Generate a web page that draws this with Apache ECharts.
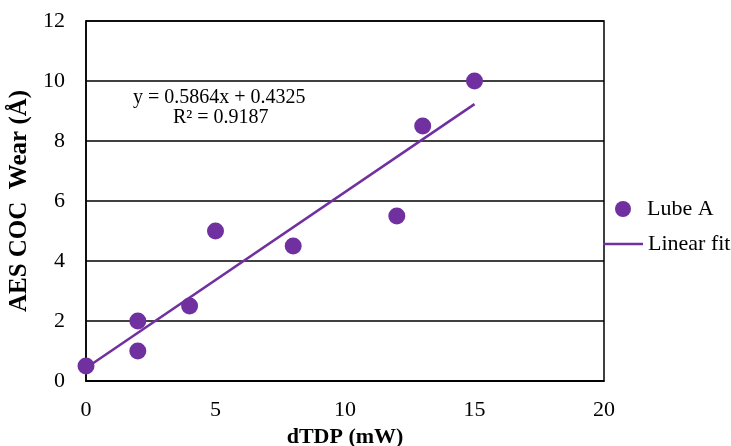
<!DOCTYPE html>
<html>
<head>
<meta charset="utf-8">
<script src="https://cdn.jsdelivr.net/npm/echarts@6/dist/echarts.min.js"></script>
<style>
  html, body { margin: 0; padding: 0; background: #fff; }
  #chart { width: 731px; height: 446px; }
</style>
</head>
<body>
<div id="chart"></div>
<script>
// Measured wear versus dTDP for Lube A
const dtdp = [0, 2, 2, 4, 5, 8, 12, 13, 15];
const wear = [0.5, 2, 1, 2.5, 5, 4.5, 5.5, 8.5, 10];
// Least-squares fit coefficients and its x extent
const fitSlope = [0.5864];
const fitIntercept = [0.4325];
const fitRange = [0, 15];
const fitR2 = [0.9187];

const purple = '#7030A0';
const serif = '"Liberation Serif", "Times New Roman", serif';

const points = dtdp.map((x, i) => [x, wear[i]]);
const fitLine = fitRange.map(x => [x, fitSlope[0] * x + fitIntercept[0]]);

const chart = echarts.init(document.getElementById('chart'));
chart.setOption({
  animation: false,
  backgroundColor: '#fff',
  grid: {
    left: 86, right: 127, top: 21, bottom: 65,
    outerBoundsMode: 'none', containLabel: false,
    show: true, borderColor: '#000', borderWidth: 1.5, backgroundColor: 'transparent'
  },
  xAxis: {
    type: 'value', min: 0, max: 20, interval: 5,
    name: 'dTDP (mW)', nameLocation: 'middle', nameGap: 40,
    nameTextStyle: { fontFamily: serif, fontSize: 22, fontWeight: 'bold', color: '#000' },
    axisLine: { show: true, lineStyle: { color: '#000', width: 1.5 } },
    axisTick: { show: false },
    axisLabel: { fontFamily: serif, fontSize: 22, color: '#000', margin: 18 },
    splitLine: { show: false }
  },
  yAxis: {
    type: 'value', min: 0, max: 12, interval: 2,
    name: 'AES COC  Wear (Å)', nameLocation: 'middle', nameGap: 53,
    nameTextStyle: { fontFamily: serif, fontSize: 25, fontWeight: 'bold', color: '#000' },
    axisLine: { show: true, lineStyle: { color: '#000', width: 1.5 } },
    axisTick: { show: false },
    axisLabel: { fontFamily: serif, fontSize: 22, color: '#000', margin: 21 },
    splitLine: { show: true, lineStyle: { color: '#000', width: 1.5 } }
  },
  legend: [
    {
      data: [{ name: 'Lube A', icon: 'circle' }],
      orient: 'vertical', left: 615, top: 198, padding: 0,
      itemWidth: 16, itemHeight: 16,
      formatter: name => '{g|}' + name,
      textStyle: {
        fontFamily: serif, fontSize: 22, color: '#000',
        rich: { g: { width: 11 } }
      }
    },
    {
      data: [{ name: 'Linear fit', icon: 'rect' }],
      orient: 'vertical', left: 603, top: 233, padding: 0,
      itemWidth: 40, itemHeight: 2.5,
      textStyle: { fontFamily: serif, fontSize: 22, color: '#000' }
    }
  ],
  graphic: [
    {
      type: 'text', left: 133, top: 88,
      style: {
        text: 'y = ' + fitSlope[0] + 'x + ' + fitIntercept[0],
        font: '20px ' + serif, fill: '#000'
      }
    },
    {
      type: 'text', left: 173, top: 108,
      style: { text: 'R² = ' + fitR2[0], font: '20px ' + serif, fill: '#000' }
    }
  ],
  series: [
    {
      name: 'Linear fit', type: 'line', data: fitLine,
      symbol: 'none', z: 2,
      lineStyle: { color: purple, width: 2.5 },
      itemStyle: { color: purple }
    },
    {
      name: 'Lube A', type: 'scatter', data: points,
      symbol: 'circle', symbolSize: 17, z: 3,
      itemStyle: { color: purple, opacity: 1 }
    }
  ]
});
</script>
</body>
</html>
